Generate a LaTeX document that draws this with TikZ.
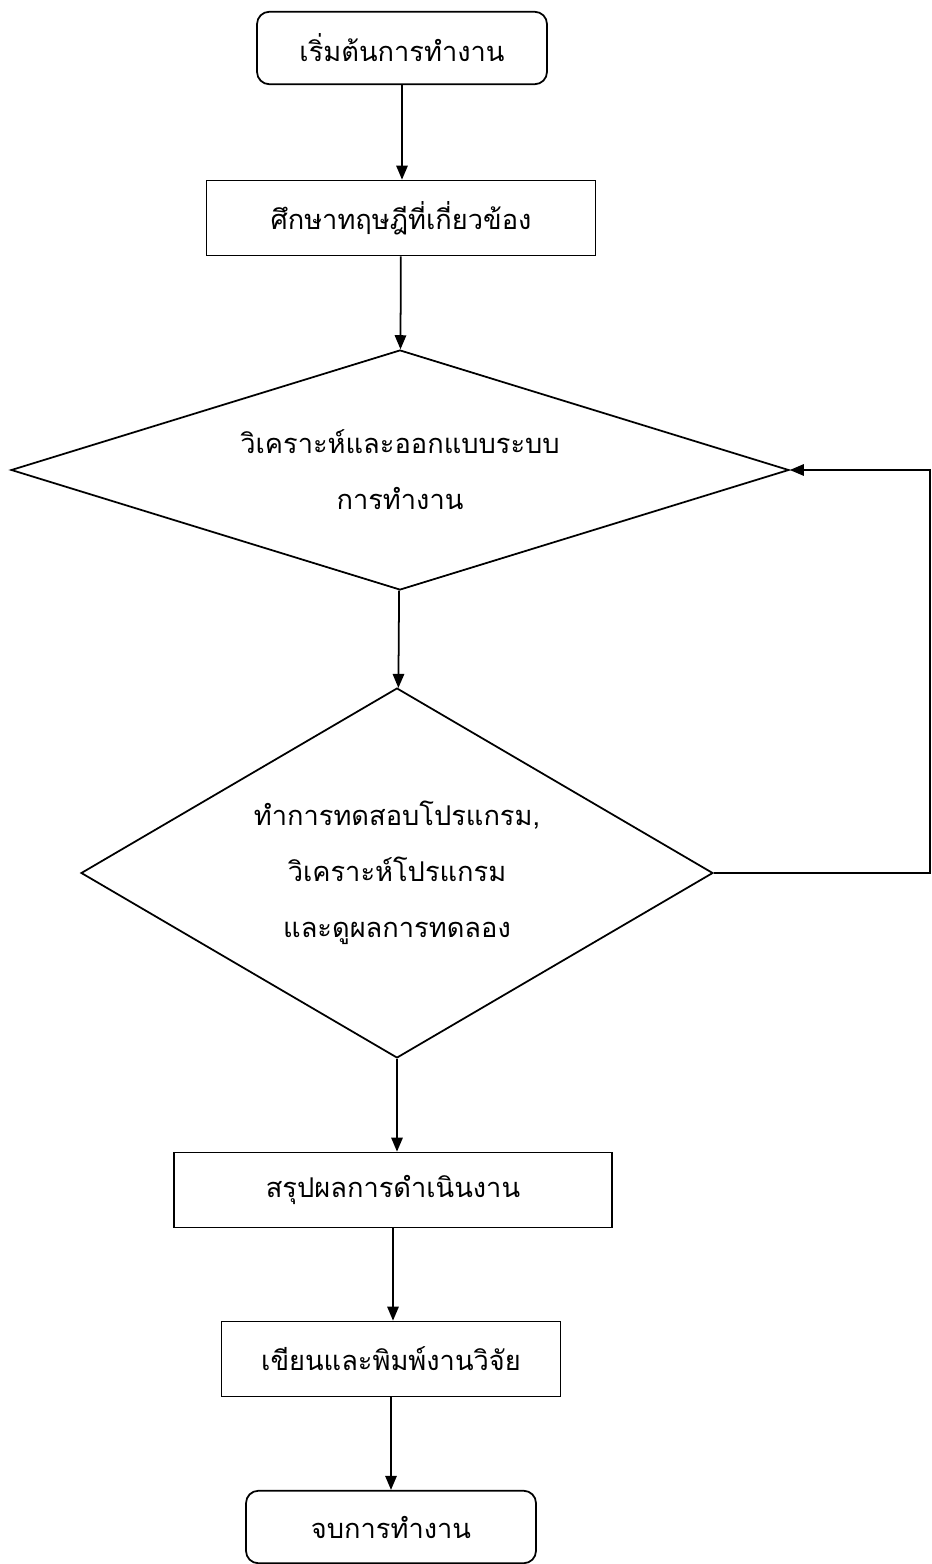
\documentclass[tikz,border=0pt]{standalone}
\usepackage{fontspec}
\newfontfamily\thaifont[Script=Thai]{Loma}
\usetikzlibrary{positioning,shapes.geometric,arrows.meta}

\begin{document}
\begin{tikzpicture}[x=0.02cm,y=-0.02cm,line width=1pt,
	>={Triangle[length=8pt,width=6.5pt]},
	every node/.style={font=\thaifont\fontsize{15.5}{32}\selectfont},
	term/.style={draw,rounded corners=7pt,minimum width=5.8cm,minimum height=1.45cm},
	proc/.style={draw,minimum height=1.5cm},
	deci/.style={draw,diamond,inner sep=0pt,align=center}]
	\useasboundingbox (0,0) rectangle (932,1564);

	\node[term] (start) at (402,48) {เริ่มต้นการทำงาน};
	\node[proc,minimum width=7.78cm] (study) at (401,218) {ศึกษาทฤษฎีที่เกี่ยวข้อง};
	\node[deci,aspect=3.2,minimum width=15.56cm,minimum height=4.8cm] (design) at (400,470)
		{วิเคราะห์และออกแบบระบบ\\การทำงาน};
	\node[deci,aspect=1.7,minimum width=12.64cm,minimum height=7.4cm] (test) at (397,873)
		{ทำการทดสอบโปรแกรม,\\วิเคราะห์โปรแกรม\\และดูผลการทดลอง};
	\node[proc,minimum width=8.76cm] (summary) at (393,1190) {สรุปผลการดำเนินงาน};
	\node[proc,minimum width=6.78cm] (report) at (391,1359) {เขียนและพิมพ์งานวิจัย};
	\node[term] (finish) at (391,1527) {จบการทำงาน};
	%\coordinate for the loop back on the right side
	\coordinate (edge) at (930,873);

	\draw[->] (start) -- (start |- study.north);
	\draw[->] (study) -- (design);
	\draw[->] (design) -- (test);
	\draw[->] (test) -- (test |- summary.north);
	\draw[->] (summary) -- (summary |- report.north);
	\draw[->] (report) -- (finish);
	\draw[->] (test.east) -- (edge) |- (design.east);
\end{tikzpicture}
\end{document}
